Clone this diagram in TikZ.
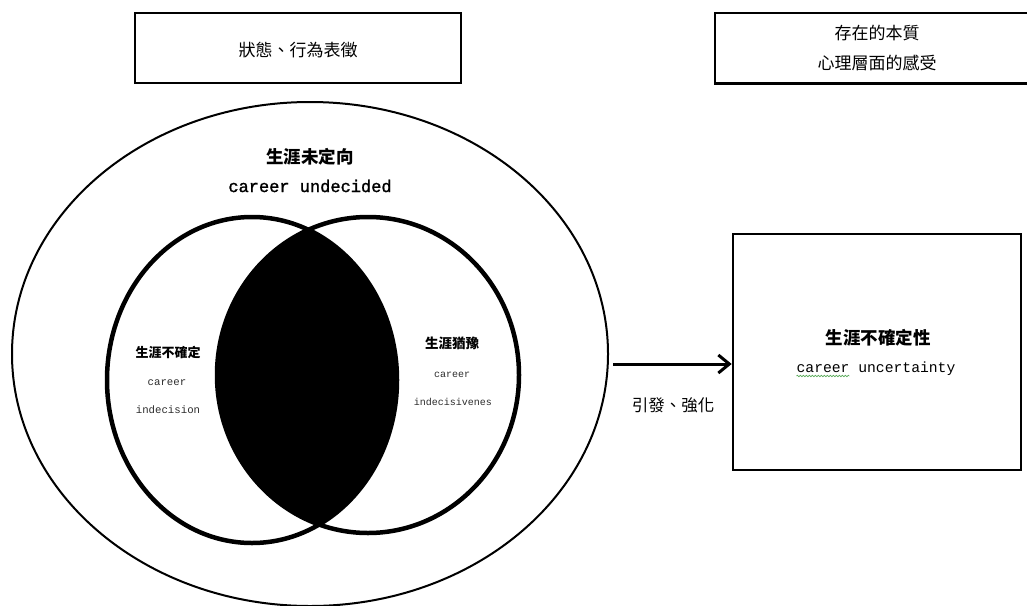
\documentclass[tikz,border=0pt]{standalone}
\usepackage{fontspec}
\newfontfamily\cjk{Noto Sans CJK TC}
\newfontfamily\mono{Liberation Mono}
\newfontfamily\monob[FakeBold=1.4]{Liberation Mono}
\usetikzlibrary{shapes.geometric,arrows.meta,decorations.pathmorphing}
\definecolor{wavy}{RGB}{90,170,90}
\definecolor{txtgray}{RGB}{45,45,45}
\begin{document}
\begin{tikzpicture}[x=1pt,y=-1pt,
  boxline/.style={draw=black,line width=2.6pt},
  vline/.style={draw=black,line width=4.5pt},
  cjkreg/.style={font=\cjk\fontsize{17}{30}\selectfont,align=center,inner sep=0pt},
  cjkbold/.style={font=\cjk\bfseries\fontsize{#1}{#1}\selectfont,inner sep=0pt},
  smalltxt/.style={font=\mono\fontsize{#1}{#1}\selectfont,text=txtgray,inner sep=0pt,anchor=base},
  arr/.style={line width=3pt,-{Straight Barb[length=11pt,width=18pt,line width=3pt]}}]
\useasboundingbox (0,0) rectangle (1027,605);
\fill[white] (0,0) rectangle (1027,605);

% top boxes
\node[boxline,minimum width=326pt,minimum height=70pt,inner sep=0pt] (topl) at (298,48) {};
\node[cjkreg] (toplt) at (298,50) {狀態、行為表徵};
\coordinate (redge) at (1032,0);
\node[minimum width=324pt,minimum height=70pt,inner sep=0pt] (topr) at (877,48) {};
\draw[boxline] (topr.north -| redge) -- (topr.north west) -- (topr.south west) -- (topr.south -| redge);
\node[cjkreg] (toprt) at (877,48) {存在的本質\\心理層面的感受};

% outer ellipse
\node[ellipse,draw=black,line width=2pt,minimum width=596pt,minimum height=504pt,inner sep=0pt] (outer) at (310,354) {};

% venn
\coordinate (cl) at (252,380);
\coordinate (cr) at (368,375);
\begin{scope}
  \clip (cl) ellipse [x radius=145, y radius=163];
  \fill[black] (cr) ellipse [x radius=151, y radius=158];
\end{scope}
\node[ellipse,vline,minimum width=290pt,minimum height=326pt,inner sep=0pt] (vl) at (cl) {};
\node[ellipse,vline,minimum width=302pt,minimum height=316pt,inner sep=0pt] (vr) at (cr) {};

% labels in outer ellipse
\node[cjkbold=17.5] (t1) at (310,157) {生涯未定向};
\node[font=\monob\fontsize{17}{17}\selectfont,inner sep=0pt,anchor=base] (t2) at (310,192) {career undecided};

\node[cjkbold=13] (l1) at (168,352) {生涯不確定};
\node[smalltxt=10.7] (l2) at (167,385) {career};
\node[smalltxt=10.7] (l3) at (168,413) {indecision};

\node[cjkbold=13.5] (r1) at (452,343) {生涯猶豫};
\node[smalltxt=10] (r2) at (452,377) {career};
\node[smalltxt=10] (r3) at (453,405) {indecisivenes};

% right box
\node[boxline,minimum width=288pt,minimum height=236pt,inner sep=0pt] (ubox) at (877,352) {};
\node[cjkbold=17.5] (u1) at (878,338) {生涯不確定性};
\node[font=\mono\fontsize{14.7}{15}\selectfont,inner sep=0pt,anchor=base] (u2) at (876,372) {career uncertainty};
\coordinate (ul) at ([yshift=-4pt]u2.base west);
\draw[wavy,line width=0.6pt,decorate,decoration={snake,amplitude=0.8pt,segment length=3pt}] (ul) -- ++(53,0);

% arrow
\coordinate (astart) at (613,364);
\draw[arr] (astart) -- (astart -| ubox.west);
\node[font=\cjk\fontsize{16.5}{18}\selectfont,inner sep=0pt] (lab) at (673,405) {引發、強化};
\end{tikzpicture}
\end{document}
